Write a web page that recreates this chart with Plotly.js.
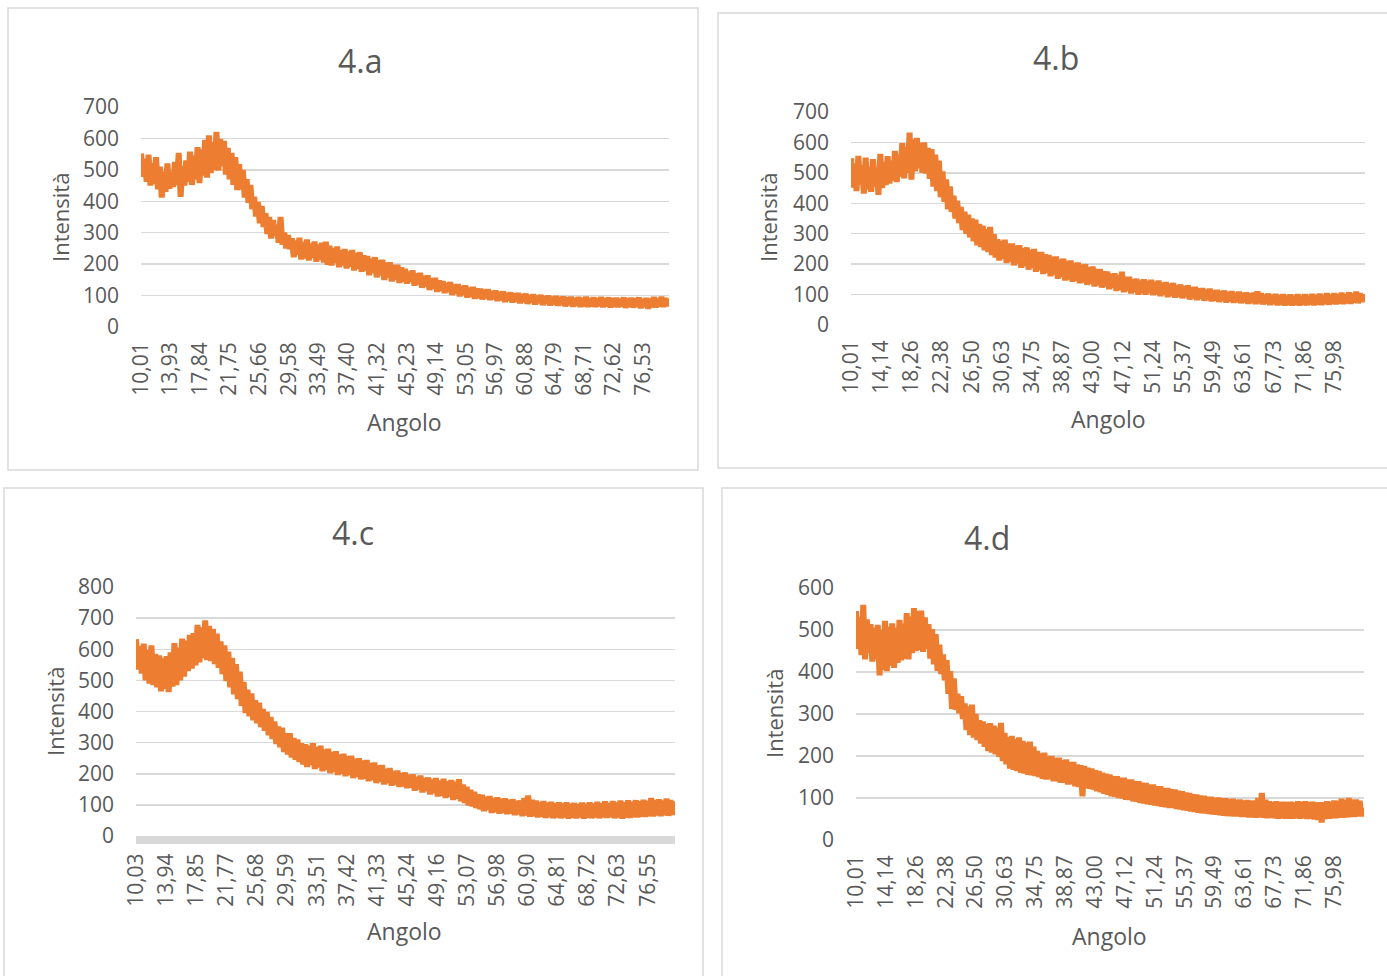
<!DOCTYPE html>
<html>
<head>
<meta charset="utf-8">
<script src="https://cdn.plot.ly/plotly-3.0.1.min.js"></script>
<style>
html,body{margin:0;padding:0;background:#fff;}
#chart{width:1387px;height:976px;}
</style>
</head>
<body>
<div id="chart"></div>
<script>
// ---------- DATA ----------
const angles = [
10,10.25,10.5,10.75,11,11.25,11.5,11.75,12,12.25,12.5,12.75,13,13.25,13.5,13.75,14,14.25,14.5,14.75,
15,15.25,15.5,15.75,16,16.25,16.5,16.75,17,17.25,17.5,17.75,18,18.25,18.5,18.75,19,19.25,19.5,19.75,
20,20.25,20.5,20.75,21,21.25,21.5,21.75,22,22.25,22.5,22.75,23,23.25,23.5,23.75,24,24.25,24.5,24.75,
25,25.25,25.5,25.75,26,26.25,26.5,26.75,27,27.25,27.5,27.75,28,28.25,28.5,28.75,29,29.25,29.5,29.75,
30,30.25,30.5,30.75,31,31.25,31.5,31.75,32,32.25,32.5,32.75,33,33.25,33.5,33.75,34,34.25,34.5,34.75,
35,35.25,35.5,35.75,36,36.25,36.5,36.75,37,37.25,37.5,37.75,38,38.25,38.5,38.75,39,39.25,39.5,39.75,
40,40.25,40.5,40.75,41,41.25,41.5,41.75,42,42.25,42.5,42.75,43,43.25,43.5,43.75,44,44.25,44.5,44.75,
45,45.25,45.5,45.75,46,46.25,46.5,46.75,47,47.25,47.5,47.75,48,48.25,48.5,48.75,49,49.25,49.5,49.75,
50,50.25,50.5,50.75,51,51.25,51.5,51.75,52,52.25,52.5,52.75,53,53.25,53.5,53.75,54,54.25,54.5,54.75,
55,55.25,55.5,55.75,56,56.25,56.5,56.75,57,57.25,57.5,57.75,58,58.25,58.5,58.75,59,59.25,59.5,59.75,
60,60.25,60.5,60.75,61,61.25,61.5,61.75,62,62.25,62.5,62.75,63,63.25,63.5,63.75,64,64.25,64.5,64.75,
65,65.25,65.5,65.75,66,66.25,66.5,66.75,67,67.25,67.5,67.75,68,68.25,68.5,68.75,69,69.25,69.5,69.75,
70,70.25,70.5,70.75,71,71.25,71.5,71.75,72,72.25,72.5,72.75,73,73.25,73.5,73.75,74,74.25,74.5,74.75,
75,75.25,75.5,75.75,76,76.25,76.5,76.75,77,77.25,77.5,77.75,78,78.25,78.5,78.75,79,79.25,79.5,79.75,
80];

const intensityA = [
552,478,535,462,548,450,522,455,540,438,510,412,495,430,520,440,488,445,525,452,
554,414,512,450,530,462,558,452,545,470,572,458,565,482,595,475,610,490,588,500,
621,498,598,512,592,485,570,470,554,452,540,436,518,438,500,412,470,395,452,375,
414,352,398,330,385,318,362,296,350,282,340,290,325,268,350,262,300,250,292,248,
282,222,275,230,284,215,270,218,278,212,265,220,272,208,262,214,268,205,271,198,
258,196,250,204,256,190,244,196,248,186,240,192,245,180,235,186,238,176,228,180,
226,165,218,172,222,158,212,164,214,150,205,157,206,145,198,150,198,140,190,144,
185,138,176,144,180,132,170,136,172,125,162,130,164,118,155,122,156,112,148,116,
146,108,140,112,143,102,134,106,136,98,130,102,132,94,125,97,127,90,122,93,
122,88,118,92,120,86,114,89,116,83,111,86,113,80,108,84,110,78,106,81,
108,76,104,80,106,74,101,78,104,72,99,76,102,70,97,74,100,69,96,72,
98,68,95,71,97,66,93,70,96,65,92,68,95,64,92,67,96,64,91,66,
94,64,91,67,95,63,90,66,94,62,91,65,93,63,89,66,94,61,90,64,
93,62,90,65,94,60,89,64,92,58,90,63,95,62,91,66,96,64,92,67,
90];

const intensityB = [
548,452,530,440,556,462,525,432,550,445,520,438,545,455,515,428,562,450,535,460,
555,465,540,475,572,470,560,488,598,482,585,500,632,478,610,505,615,515,598,500,
600,498,582,480,578,455,560,440,540,420,505,405,478,380,455,372,425,350,408,335,
388,312,372,300,362,288,350,275,346,262,332,256,326,246,315,240,322,230,298,222,
282,212,276,218,280,204,268,208,268,196,260,202,262,188,252,194,255,182,246,188,
250,175,240,180,240,168,232,172,230,160,224,166,225,152,215,158,218,146,210,150,
212,142,204,146,205,137,198,140,200,132,190,136,192,127,184,131,184,123,176,127,
176,118,168,122,170,112,162,116,175,108,158,112,158,104,150,108,152,100,146,104,
150,100,145,105,148,98,142,101,146,95,138,99,141,92,135,96,138,90,130,93,
133,88,127,91,130,84,123,88,125,82,120,86,121,80,116,83,119,78,113,81,
115,76,110,79,113,74,108,78,111,73,106,76,109,72,104,75,107,70,103,73,
106,69,110,72,104,68,99,70,103,66,98,69,102,65,97,68,101,64,96,67,
100,64,96,67,101,64,95,67,101,65,96,68,102,65,97,68,103,66,98,69,
104,67,99,70,104,68,100,71,106,69,101,72,107,70,103,74,109,72,104,76,
102];

const intensityC = [
632,535,610,522,618,500,598,490,612,485,585,478,580,465,572,472,578,462,590,480,
620,485,605,500,634,512,628,530,646,538,652,548,678,558,670,572,693,565,675,562,
665,552,650,540,625,520,612,498,592,478,572,455,552,440,528,418,495,395,470,385,
458,372,436,362,428,350,408,338,398,324,382,312,368,296,352,285,348,270,330,262,
330,252,315,245,310,238,298,230,295,222,290,228,298,215,286,220,290,208,278,212,
280,202,270,206,272,196,262,200,264,192,256,196,258,186,248,190,250,182,242,184,
244,176,234,180,236,170,226,174,228,166,216,170,218,162,208,165,210,158,202,160,
204,154,196,156,198,146,190,150,194,140,186,144,188,134,182,138,186,127,178,130,
184,122,176,126,180,116,174,120,182,112,165,106,158,98,148,95,142,90,134,86,
132,80,126,84,128,74,122,77,124,72,119,75,121,70,116,72,118,67,113,70,
114,64,122,66,130,62,116,64,114,60,109,62,112,58,107,61,110,57,105,60,
108,57,104,60,108,56,103,59,106,57,102,60,107,56,103,59,108,57,104,60,
110,57,105,60,111,58,106,61,112,57,107,60,114,56,108,59,115,58,110,61,
115,60,111,62,116,61,112,64,122,63,115,66,118,64,114,67,120,65,115,68,
112];

const intensityD = [
545,455,530,440,560,430,525,445,514,425,505,430,512,392,500,405,522,402,508,415,
516,410,505,422,524,428,515,432,540,430,532,445,552,450,545,452,546,448,530,455,
514,432,502,418,490,403,465,395,442,380,428,348,402,312,385,310,348,302,342,288,
325,262,318,250,322,244,300,238,285,230,282,222,276,212,278,208,272,204,268,198,
279,188,255,180,245,170,248,167,240,164,244,160,236,158,232,155,234,154,222,152,
212,150,206,146,208,144,200,145,200,140,195,140,196,136,190,136,192,132,186,133,
186,128,180,126,178,104,176,124,172,122,170,120,166,116,164,114,160,110,158,108,
156,104,152,103,152,100,148,99,148,96,144,95,144,92,140,91,140,88,136,87,
136,85,132,84,132,82,128,81,128,79,124,78,124,76,121,76,120,74,117,73,
116,71,113,70,112,68,109,67,108,65,106,64,105,63,103,62,103,61,100,60,
101,59,99,58,99,57,97,57,98,56,95,56,96,55,94,55,95,54,93,54,
94,53,100,54,112,53,96,52,92,53,90,52,92,51,90,52,91,51,90,51,
91,51,89,52,92,51,90,52,92,50,90,51,91,49,89,48,90,42,89,50,
92,51,91,52,94,52,93,53,98,53,95,54,100,55,96,55,96,56,93,57,
76];

const ticksA  = ['10,01','13,93','17,84','21,75','25,66','29,58','33,49','37,40','41,32','45,23','49,14','53,05','56,97','60,88','64,79','68,71','72,62','76,53'];
const ticksBD = ['10,01','14,14','18,26','22,38','26,50','30,63','34,75','38,87','43,00','47,12','51,24','55,37','59,49','63,61','67,73','71,86','75,98'];
const ticksC  = ['10,03','13,94','17,85','21,77','25,68','29,59','33,51','37,42','41,33','45,24','49,16','53,07','56,98','60,90','64,81','68,72','72,63','76,55'];

const panelTitles = ['4.a','4.b','4.c','4.d'];
const xTitle = 'Angolo';
const yTitle = 'Intensità';

// ---------- LAYOUT ----------
const W = 1387, H = 976;
const FONT = '"Open Sans", "Liberation Sans", sans-serif';
const TXT = '#595959';
const GRID = '#d9d9d9';
const ORANGE = '#ED7D31';

function px(x){ return x / W; }
function py(y){ return 1 - y / H; }

const panels = [
  {data:intensityA, ticks:ticksA,  plot:{l:141,r:669,t:107,b:327}, yr:[0,700], xr:[10,80],
   title:[360,60], xt:[404,422], yt:[60,218], box:[8,8,698,470], baseLine:false, xso:10},
  {data:intensityB, ticks:ticksBD, plot:{l:851,r:1365,t:112,b:325}, yr:[0,700], xr:[10,80.2],
   title:[1056,57], xt:[1108,419], yt:[768,218], box:[718,13,1395,468], baseLine:false, xso:10},
  {data:intensityC, ticks:ticksC,  plot:{l:136,r:675,t:587,b:836}, yr:[0,800], xr:[10,80.1],
   title:[353,532], xt:[404,931], yt:[55,712], box:[4,488,703,985], baseLine:true, xso:1},
  {data:intensityD, ticks:ticksBD, plot:{l:856,r:1364,t:588,b:840}, yr:[0,600], xr:[10,80.1],
   title:[987,537], xt:[1109,936], yt:[774,714], box:[722,488,1395,985], baseLine:false, xso:10}
];

const traces = [];
const layout = {
  width: W, height: H,
  margin: {l:0, r:0, t:0, b:0},
  paper_bgcolor: '#ffffff',
  plot_bgcolor: 'rgba(0,0,0,0)',
  showlegend: false,
  font: {family: FONT, color: TXT},
  annotations: [],
  shapes: []
};

panels.forEach((p, i) => {
  const n = i === 0 ? '' : String(i + 1);
  traces.push({
    type: 'scatter', mode: 'lines',
    x: angles, y: p.data,
    xaxis: 'x' + n, yaxis: 'y' + n,
    line: {color: ORANGE, width: 6},
    hoverinfo: 'skip'
  });
  layout['xaxis' + n] = {
    domain: [px(p.plot.l), px(p.plot.r)],
    anchor: 'y' + n,
    range: p.xr,
    tickmode: 'array',
    tickvals: p.ticks.map(s => parseFloat(s.replace(',', '.'))),
    ticktext: p.ticks,
    tickangle: -90,
    ticks: '',
    ticklabelstandoff: p.xso,
    tickfont: {family: FONT, size: 21, color: TXT},
    showgrid: false,
    zeroline: false,
    showline: p.baseLine,
    linecolor: GRID,
    linewidth: p.baseLine ? 8 : 0,
    fixedrange: true
  };
  layout['yaxis' + n] = {
    domain: [py(p.plot.b), py(p.plot.t)],
    anchor: 'x' + n,
    range: p.yr,
    dtick: 100,
    ticks: '',
    ticklabelstandoff: 21,
    tickfont: {family: FONT, size: 21, color: TXT},
    showgrid: true,
    gridcolor: GRID,
    gridwidth: 1.5,
    zeroline: false,
    showline: false,
    fixedrange: true
  };
  layout.annotations.push(
    {text: panelTitles[i], xref:'paper', yref:'paper', x: px(p.title[0]), y: py(p.title[1]),
     xanchor:'center', yanchor:'middle', showarrow:false, font:{family:FONT, size:32, color:TXT}},
    {text: xTitle, xref:'paper', yref:'paper', x: px(p.xt[0]), y: py(p.xt[1]),
     xanchor:'center', yanchor:'middle', showarrow:false, font:{family:FONT, size:23, color:TXT}},
    {text: yTitle, xref:'paper', yref:'paper', x: px(p.yt[0]), y: py(p.yt[1]),
     xanchor:'center', yanchor:'middle', showarrow:false, textangle:-90, font:{family:FONT, size:22, color:TXT}}
  );
  layout.shapes.push({
    type:'rect', xref:'paper', yref:'paper',
    x0: px(p.box[0]), y0: py(p.box[3]), x1: px(p.box[2]), y1: py(p.box[1]),
    line: {color: GRID, width: 1.5}, fillcolor: 'rgba(0,0,0,0)', layer: 'below'
  });
});

Plotly.newPlot('chart', traces, layout, {displayModeBar: false, staticPlot: true});
</script>
</body>
</html>
